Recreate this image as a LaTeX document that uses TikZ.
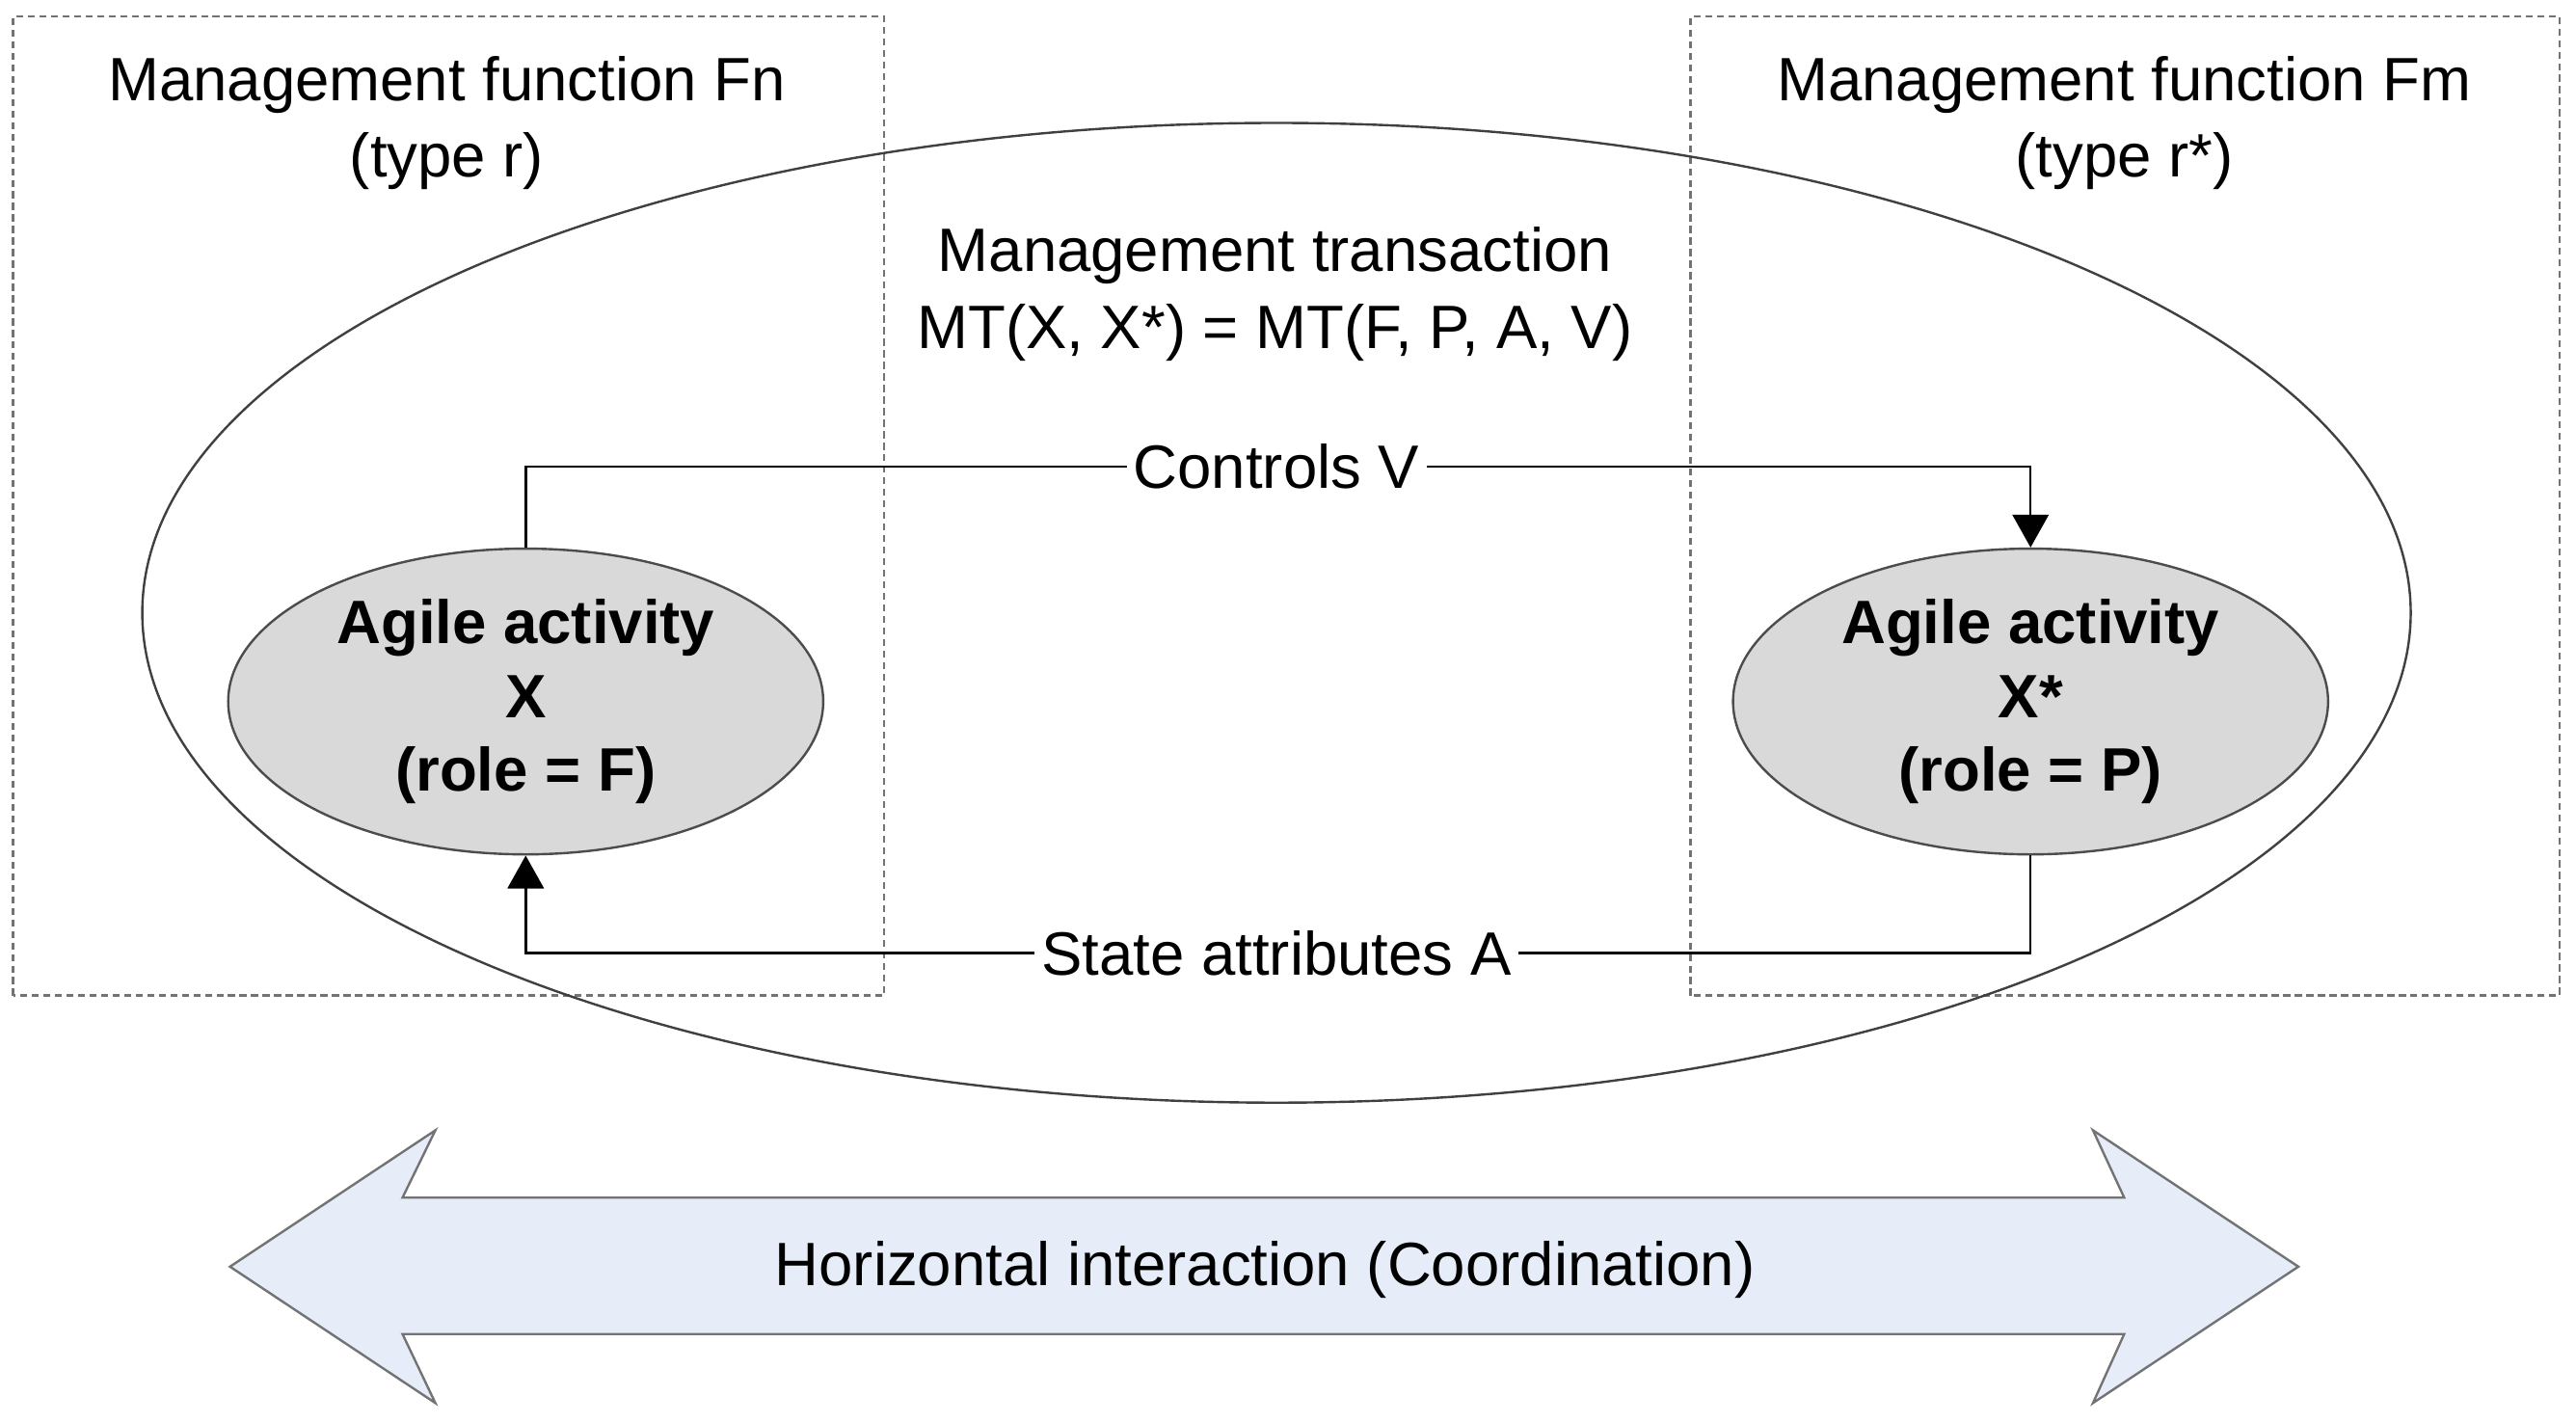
\documentclass[tikz,border=0pt]{standalone}
\usepackage{fontspec}
\setmainfont{Liberation Sans}
\usepackage{tikz}
\usetikzlibrary{shapes.geometric,arrows.meta,positioning}
\definecolor{actgray}{HTML}{D9D9D9}
\definecolor{hzblue}{HTML}{E6EDF8}
\tikzset{
  fnbox/.style={ draw=black!55, dash pattern=on 1.2pt off 0.8pt }
}
\tikzset{
  mtell/.style={ draw=black!75, ellipse, minimum width=13.8cm, minimum height=5.96cm, inner sep=0pt }
}
\tikzset{
  actell/.style={ draw=black!70, ellipse, fill=actgray, minimum width=3.62cm, minimum height=1.86cm, inner sep=0pt, align=center, font=\bfseries\fontsize{10.6}{12.7}\selectfont }
}
\tikzset{
  txt/.style={ align=center, inner sep=1pt, font=\fontsize{10.6}{13.2}\selectfont }
}
\tikzset{
  tip/.style={ -{Triangle[length=2mm, width=2.2mm]} }
}

\begin{document}
\begin{tikzpicture}[y=0.01cm, x=0.01cm]
      \useasboundingbox (0,0) rectangle (1568,866);
      \draw[fnbox] (8,260) rectangle (538,856);
      \draw[fnbox] (1029,260) rectangle (1558,856);
      \node[txt] (Fn) at (272,791) {Management function Fn\\(type r)};
      \node[txt] (Fm) at (1293,791) {Management function Fm\\(type r*)};
      \node[mtell] (MT) at (777,493) {};
      \node[txt] (MTlbl) at (776,687) {Management transaction\\MT(X, X*) = MT(F, P, A, V)};
      \node[actell] (X) at (320,439) {Agile activity\\X\\(role = F)};
      \node[actell] (Xs) at (1236,439) {Agile activity\\X*\\(role = P)};
      \node[txt] (ctlV) at (777,582) {Controls V};
      \node[txt] (stA) at (777,286) {State attributes A};
      \draw (X.north) |- (ctlV.west);
      \draw[tip] (ctlV.east) -| (Xs.north);
      \draw (Xs.south) |- (stA.east);
      \draw[tip] (stA.west) -| (X.south);
      % horizontal double arrow
      \filldraw[draw=black!55, fill=hzblue] (140,95) -- (265,178) -- (245,137) -- (1293,137)
        -- (1274,178) -- (1399,95) -- (1274,12) -- (1293,54) -- (245,54) -- (265,12) -- cycle;
      \node[txt] (hz) at (770,93) {Horizontal interaction (Coordination)};
    \end{tikzpicture}
\end{document}
